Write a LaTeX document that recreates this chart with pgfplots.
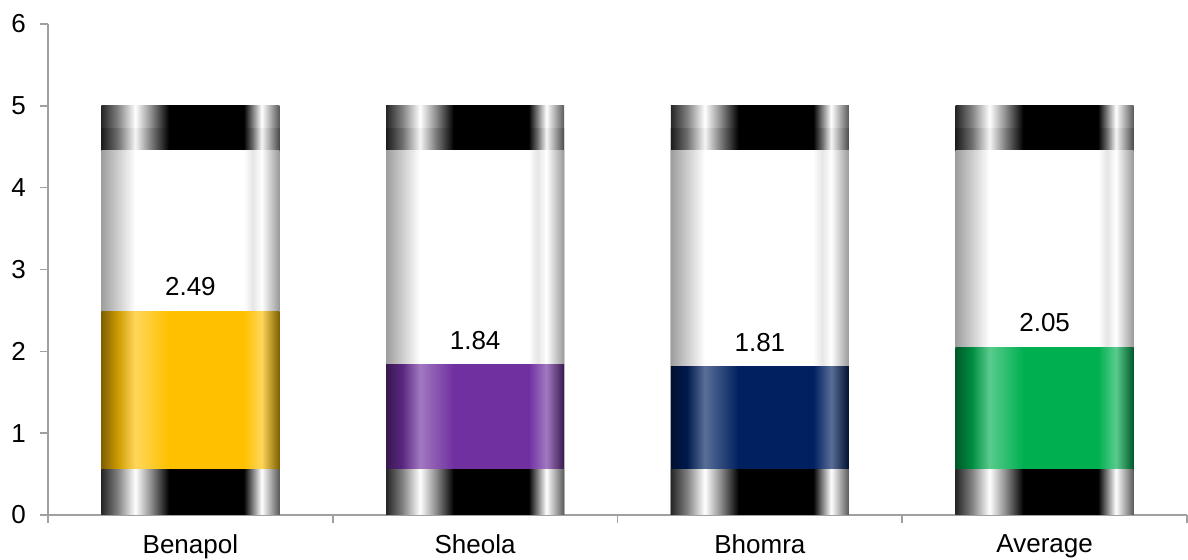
\documentclass[border=0pt]{standalone}
\usepackage{fontspec}
\setmainfont{Liberation Sans}
\usepackage{pgfplots}
\pgfplotsset{compat=1.18}
\pgfkeys{/pgf/number format/assume math mode=true}

\definecolor{axisgray}{RGB}{160,160,160}
\definecolor{cgold}{RGB}{255,192,0}
\definecolor{cpurple}{RGB}{112,48,160}
\definecolor{cnavy}{RGB}{0,32,96}
\definecolor{cgreen}{RGB}{0,176,80}

% Cylinder-like horizontal shadings (the bar's bounding box maps to 25bp..75bp)
\colorlet{capA}{black!85}
\colorlet{capB}{black!50}
\colorlet{capC}{black!45}
\colorlet{capD}{black!65}
\pgfdeclarehorizontalshading{capshade}{100bp}{%
  color(0bp)=(capA); color(25bp)=(capA); color(29.5bp)=(capB);
  color(34.5bp)=(white); color(39bp)=(capC); color(44bp)=(black);
  color(65bp)=(black); color(67.5bp)=(capB); color(70bp)=(white);
  color(75bp)=(capD); color(100bp)=(capD)}
% slightly darker lower band of the top cap
\colorlet{capbA}{black!89}
\colorlet{capbB}{black!57}
\colorlet{capbC}{black!52}
\colorlet{capbD}{black!71}
\colorlet{capbW}{black!4}
\pgfdeclarehorizontalshading{capbandshade}{100bp}{%
  color(0bp)=(capbA); color(25bp)=(capbA); color(29.5bp)=(capbB);
  color(34.5bp)=(capbW); color(39bp)=(capbC); color(44bp)=(black);
  color(65bp)=(black); color(67.5bp)=(capbB); color(70bp)=(capbW);
  color(75bp)=(capbD); color(100bp)=(capbD)}

\colorlet{wA}{black!38}
\colorlet{wB}{black!20}
\colorlet{wC}{black!10}
\colorlet{wD}{black!40}
\pgfdeclarehorizontalshading{whiteshade}{100bp}{%
  color(0bp)=(wA); color(25bp)=(wA); color(29.5bp)=(wB);
  color(34.5bp)=(white); color(65bp)=(white); color(67.5bp)=(wC);
  color(70bp)=(white); color(75bp)=(wD); color(100bp)=(wD)}

\newcommand\cylshade[2]{%
  \colorlet{#1edge}{#2!50!black}%
  \colorlet{#1mid}{#2!80!black}%
  \colorlet{#1hi}{#2!65!white}%
  \colorlet{#1base}{#2}%
  \pgfdeclarehorizontalshading{#1}{100bp}{%
    color(0bp)=(#1edge); color(25bp)=(#1edge); color(29.5bp)=(#1mid);
    color(34.5bp)=(#1hi); color(44bp)=(#1base); color(65bp)=(#1base);
    color(70bp)=(#1hi); color(75bp)=(#1edge); color(100bp)=(#1edge)}}
\cylshade{goldshade}{cgold}
\cylshade{purpleshade}{cpurple}
\cylshade{navyshade}{cnavy}
\cylshade{greenshade}{cgreen}

% one bar = one path, so that every bar gets its own shading
\newcommand\cylbar[3]{%
  \addplot[ybar, bar shift=0, draw=none, shade, shading=#1] coordinates {(#2,#3)};}
\newcommand\cylvalue[3]{%
  \addplot[ybar, bar shift=0, draw=none, shade, shading=#1, nodes near coords] coordinates {(#2,#3)};}

\begin{document}
\begin{tikzpicture}
\begin{axis}[
  scale only axis,
  width=569.5pt, height=245.5pt,
  xmin=-0.5, xmax=3.5, ymin=0, ymax=6,
  axis x line*=bottom, axis y line*=left,
  axis line style={axisgray, line width=0.8pt},
  tick style={axisgray, line width=0.8pt},
  tick align=outside,
  major tick length=4pt,
  xtick={-0.5,0.5,1.5,2.5,3.5},
  x tick label as interval,
  xticklabels={Benapol,Sheola,Bhomra,Average},
  ytick={0,1,2,3,4,5,6},
  x tick label style={font=\fontsize{13}{15}\selectfont, text=black, yshift=-2.5pt},
  y tick label style={font=\fontsize{13}{15}\selectfont, text=black, xshift=-3.5pt},
  every node near coord/.append style={font=\fontsize{13}{15}\selectfont, text=black, yshift=4pt},
  bar width=0.625,
  clip=false,
]
% top cap (full cylinder height)
\cylbar{capshade}{0}{5}
\cylbar{capshade}{1}{5}
\cylbar{capshade}{2}{5}
\cylbar{capshade}{3}{5}
% lower band of the top cap
\cylbar{capbandshade}{0}{4.72}
\cylbar{capbandshade}{1}{4.72}
\cylbar{capbandshade}{2}{4.72}
\cylbar{capbandshade}{3}{4.72}
% empty part of the cylinder
\cylbar{whiteshade}{0}{4.45}
\cylbar{whiteshade}{1}{4.45}
\cylbar{whiteshade}{2}{4.45}
\cylbar{whiteshade}{3}{4.45}
% filled part, one series per site
\cylvalue{goldshade}{0}{2.49}
\cylvalue{purpleshade}{1}{1.84}
\cylvalue{navyshade}{2}{1.81}
\cylvalue{greenshade}{3}{2.05}
% bottom cap
\cylbar{capshade}{0}{0.55}
\cylbar{capshade}{1}{0.55}
\cylbar{capshade}{2}{0.55}
\cylbar{capshade}{3}{0.55}
\end{axis}
\pgfresetboundingbox
\path ([shift={(-24pt,-22.5pt)}]current axis.south west)
  rectangle ([shift={(0.5pt,12pt)}]current axis.north east);
\end{tikzpicture}
\end{document}
